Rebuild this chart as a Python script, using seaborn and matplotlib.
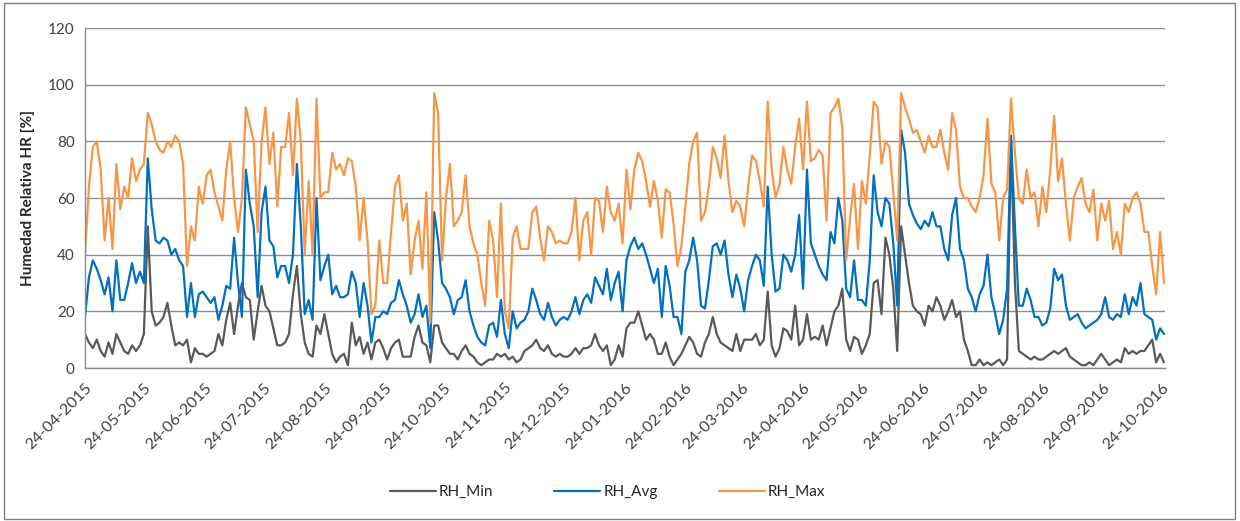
import matplotlib
matplotlib.use("Agg")

import matplotlib.pyplot as plt
from matplotlib.patches import Rectangle
import seaborn as sns
import pandas as pd

sns.set_style("white")
plt.rcParams['font.family'] = ['Lato', 'DejaVu Sans']

# Valores, un punto cada 2 dias desde 24-04-2015
rh_min = [12, 9, 7, 10, 6, 4, 9, 5, 12, 9, 6, 5, 8, 6, 8, 12, 50, 20, 15, 16, 18, 23, 15, 8, 9,
          8, 10, 2, 7, 5, 5, 4, 5, 6, 12, 8, 17, 23, 12, 22, 30, 25, 24, 10, 20, 29, 22, 20,
          14, 8, 8, 9, 12, 26, 36, 19, 9, 5, 4, 15, 12, 19, 12, 5, 2, 4, 5, 1, 16, 8, 11, 5, 9,
          3, 9, 10, 7, 3, 7, 9, 10, 4, 4, 4, 11, 15, 9, 8, 2, 15, 15, 9, 7, 5, 5,
          3, 6, 8, 5, 4, 2, 1, 2, 3, 3, 5, 4, 5, 3, 4, 2, 3, 6, 7, 8, 10, 7, 6, 8, 5,
          4, 5, 4, 4, 5, 7, 5, 7, 7, 8, 12, 8, 6, 8, 1, 3, 8, 4, 14, 16, 16, 20,
          15, 10, 12, 10, 5, 5, 9, 4, 1, 3, 5, 8, 11, 9, 5, 4, 9, 12, 18, 12, 9, 8, 7, 6, 12,
          6, 10, 10, 10, 12, 8, 10, 27, 8, 4, 7, 14, 13, 10, 22, 8, 10, 19, 10, 11, 10, 15,
          8, 14, 20, 22, 28, 10, 6, 11, 10, 5, 8, 12, 30, 31, 19, 46, 40, 28, 6, 50, 40, 30, 22, 20, 19,
          15, 22, 20, 25, 22, 17, 20, 24, 18, 20, 10, 6, 1, 1, 3, 1, 2, 1, 2, 3, 1, 3,
          80, 30, 6, 5, 4, 3, 4, 3, 3, 4, 5, 6, 5, 6, 7, 4, 3, 2, 1, 1,
          2, 1, 3, 5, 3, 1, 2, 3, 2, 7, 5, 6, 5, 6, 6, 8, 10, 2, 5, 2]

rh_avg = [18, 32, 38, 35, 31, 26, 32, 20, 38, 24, 24, 30, 37, 30, 34, 30, 74, 56, 45, 44, 46, 45, 40, 42, 38,
          36, 18, 30, 18, 26, 27, 25, 23, 25, 17, 22, 29, 28, 46, 30, 18, 70, 58, 50, 25, 55, 64, 45,
          43, 32, 36, 36, 30, 40, 72, 50, 19, 24, 17, 60, 31, 36, 40, 26, 29, 25, 25, 26, 34, 30, 18, 30, 22,
          9, 18, 18, 20, 19, 23, 24, 31, 26, 22, 16, 19, 26, 18, 22, 7, 55, 45, 30, 28, 25, 19,
          24, 25, 31, 20, 15, 11, 9, 8, 15, 16, 11, 24, 12, 7, 20, 14, 16, 17, 20, 28, 24, 19, 17, 23, 18,
          15, 17, 18, 17, 20, 25, 19, 24, 26, 23, 32, 29, 26, 35, 24, 30, 34, 20, 38, 43, 46, 42,
          44, 40, 35, 30, 35, 18, 36, 29, 18, 18, 12, 34, 38, 46, 38, 22, 21, 31, 43, 44, 40, 45, 33, 25, 33,
          28, 20, 31, 36, 40, 38, 29, 64, 40, 27, 28, 40, 38, 34, 40, 54, 28, 70, 44, 40, 36, 33,
          31, 48, 44, 60, 52, 28, 25, 38, 24, 24, 22, 38, 68, 55, 50, 60, 58, 44, 22, 84, 76, 58, 54, 51, 49,
          52, 50, 55, 50, 50, 42, 38, 54, 60, 42, 38, 28, 25, 20, 26, 29, 40, 25, 19, 12, 17, 28,
          82, 50, 22, 22, 28, 24, 18, 18, 15, 16, 21, 35, 31, 33, 22, 17, 18, 19, 16, 14,
          15, 16, 17, 19, 25, 18, 17, 19, 18, 26, 19, 25, 22, 30, 19, 18, 17, 10, 14, 12]

rh_max = [40, 64, 78, 80, 70, 45, 60, 42, 72, 56, 64, 60, 74, 66, 70, 72, 90, 86, 80, 77, 76, 80, 78, 82, 80,
          72, 36, 50, 45, 64, 58, 68, 70, 62, 57, 52, 70, 80, 60, 48, 60, 92, 86, 80, 48, 80, 92, 72,
          83, 57, 78, 78, 90, 68, 95, 80, 40, 66, 40, 95, 60, 62, 62, 76, 70, 72, 68, 74, 73, 64, 45, 60, 45,
          19, 22, 45, 30, 30, 48, 64, 68, 52, 58, 33, 45, 52, 35, 62, 16, 97, 90, 38, 60, 72, 50,
          52, 55, 68, 50, 44, 40, 30, 22, 52, 45, 25, 58, 20, 14, 46, 50, 42, 42, 42, 55, 57, 46, 38, 50, 48,
          44, 45, 44, 44, 48, 60, 38, 52, 55, 40, 60, 59, 48, 64, 55, 52, 58, 44, 70, 56, 70, 76,
          73, 66, 57, 66, 59, 46, 63, 62, 51, 36, 43, 57, 72, 80, 83, 52, 55, 64, 78, 74, 67, 82, 66, 55, 59,
          57, 50, 64, 75, 73, 66, 57, 94, 70, 60, 65, 78, 70, 65, 78, 88, 70, 94, 73, 74, 77, 75,
          52, 90, 92, 95, 85, 38, 53, 65, 42, 66, 58, 75, 94, 92, 72, 80, 78, 62, 45, 97, 92, 88, 83, 84, 80,
          76, 82, 78, 78, 84, 76, 70, 90, 84, 64, 60, 60, 57, 55, 60, 68, 88, 65, 62, 45, 60, 63,
          95, 76, 60, 58, 70, 60, 62, 50, 64, 55, 70, 89, 66, 74, 58, 45, 60, 64, 67, 58,
          55, 63, 45, 58, 52, 59, 42, 48, 40, 58, 55, 60, 62, 58, 48, 48, 36, 26, 48, 30]

series = ['RH_Min', 'RH_Avg', 'RH_Max']
colores = {'RH_Min': '#595959', 'RH_Avg': '#0070c0', 'RH_Max': '#f79646'}
y_ticks = [0, 20, 40, 60, 80, 100, 120]

inicio = pd.Timestamp('2015-04-24')
fechas = pd.date_range(inicio, periods=len(rh_max), freq='2D')
df = pd.DataFrame({'Fecha': fechas, 'RH_Min': rh_min, 'RH_Avg': rh_avg, 'RH_Max': rh_max})
df_long = df.melt(id_vars='Fecha', var_name='Serie', value_name='HR')

fig = plt.figure(figsize=(12.4, 5.21), dpi=100)
ax = fig.add_axes([85 / 1240, 1 - 368 / 521, 1080 / 1240, 340 / 521])

sns.lineplot(data=df_long, x='Fecha', y='HR', hue='Serie', hue_order=series,
             palette=colores, linewidth=1.6, ax=ax)

handles, labels = ax.get_legend_handles_labels()
ax.get_legend().remove()

# ejes y rejilla estilo Excel
ax.set_ylim(0, 120)
ax.set_yticks(y_ticks)
ax.set_xlim(inicio, inicio + pd.Timedelta(days=550.5))
ax.yaxis.grid(True, color='#8f8f8f', linewidth=1)
ax.set_axisbelow(True)
for s in ['top', 'right']:
    ax.spines[s].set_visible(False)
for s in ['left', 'bottom']:
    ax.spines[s].set_color('#8c8c8c')
    ax.spines[s].set_linewidth(1)

meses = pd.date_range(inicio, '2016-10-24', freq=pd.DateOffset(months=1))
ax.set_xticks(meses)
ax.set_xticklabels([m.strftime('%d-%m-%Y') for m in meses], rotation=45,
                   ha='right', rotation_mode='anchor')
ax.tick_params(axis='both', colors='#8c8c8c', labelcolor='#404040',
               length=4, width=1, direction='out')
ax.tick_params(axis='y', labelsize=11)
ax.tick_params(axis='x', labelsize=11.5, pad=5)

ax.set_xlabel('')
ax.set_ylabel('Humedad Relativa HR [%]', fontsize=11, fontweight='bold', labelpad=9)

for h in handles:
    h.set_linewidth(1.6)
fig.legend(handles, labels, loc='center', bbox_to_anchor=(0.49, 1 - 492 / 521), ncol=3,
           frameon=False, fontsize=11, handlelength=3, columnspacing=4, handletextpad=0.2)

# marco exterior
fig.patches.append(Rectangle((0.003, 0.004), 0.993, 0.99, transform=fig.transFigure,
                             fill=False, edgecolor='#7f7f7f', linewidth=1))

fig.savefig('out.png', dpi=100)
